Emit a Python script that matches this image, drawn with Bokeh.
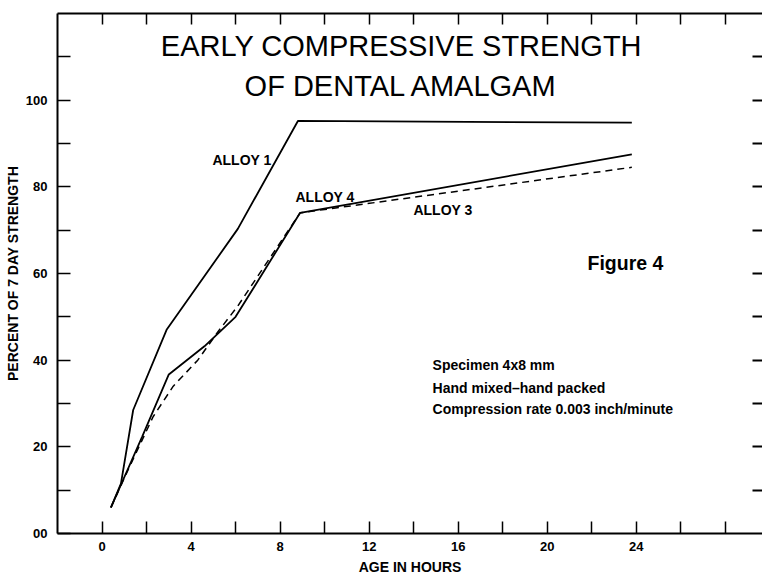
from bokeh.plotting import figure
from bokeh.models import LinearAxis, FixedTicker, Range1d, Label
from bokeh.embed import file_html
from bokeh.resources import INLINE

# ---- data (hours, percent of 7-day strength) ----
alloy1_hours = [0.4, 0.85, 1.4, 2.9, 6.1, 8.8, 23.8]
alloy1_pct = [6.0, 11.5, 28.5, 47.0, 70.3, 95.2, 94.8]

alloy4_hours = [0.4, 1.8, 3.0, 4.6, 6.0, 8.9, 23.8]
alloy4_pct = [6.0, 22.3, 36.7, 43.2, 50.0, 74.0, 87.5]

alloy3_hours = [0.4, 1.2, 2.3, 3.2, 4.3, 5.2, 6.1, 8.9, 23.8]
alloy3_pct = [6.0, 15.0, 27.0, 34.0, 40.0, 46.5, 52.5, 74.0, 84.5]

x_ticks = [0, 2, 4, 6, 8, 10, 12, 14, 16, 18, 20, 22, 24, 26, 28]
x_tick_labels = {0: "0", 4: "4", 8: "8", 12: "12", 16: "16", 20: "20", 24: "24"}
y_ticks = [0, 10, 20, 30, 40, 50, 60, 70, 80, 90, 100, 110]
y_tick_labels = {0: "00", 20: "20", 40: "40", 60: "60", 80: "80", 100: "100"}
right_ticks = [10, 20, 30, 40, 50, 60, 70, 80, 90, 100, 110]

FONT = "Liberation Sans"

p = figure(width=762, height=577,
           x_range=Range1d(-2, 29.67), y_range=Range1d(0, 120),
           output_backend="svg", toolbar_location=None,
           min_border_left=57, min_border_right=0,
           min_border_top=13, min_border_bottom=0)
p.outline_line_color = None
p.grid.visible = False
p.background_fill_color = "white"
p.border_fill_color = "white"

# bottom axis
xa = p.xaxis[0]
xa.ticker = FixedTicker(ticks=x_ticks)
xa.major_label_overrides = {t: x_tick_labels.get(t, "") for t in x_ticks}
xa.axis_line_width = 2
xa.axis_line_color = "black"
xa.major_tick_in = 12
xa.major_tick_out = 0
xa.major_tick_line_width = 1.5
xa.minor_tick_in = 0
xa.minor_tick_out = 0
xa.major_label_standoff = 8
xa.major_label_text_font = FONT
xa.major_label_text_font_style = "bold"
xa.major_label_text_font_size = "13px"
xa.major_label_text_color = "black"
xa.axis_label = "AGE IN HOURS"
xa.axis_label_standoff = 5
xa.axis_label_text_font = FONT
xa.axis_label_text_font_style = "bold"
xa.axis_label_text_font_size = "14px"
xa.axis_label_text_color = "black"

# left axis
ya = p.yaxis[0]
ya.ticker = FixedTicker(ticks=y_ticks)
ya.major_label_overrides = {t: y_tick_labels.get(t, "") for t in y_ticks}
ya.axis_line_width = 2
ya.axis_line_color = "black"
ya.major_tick_in = 13
ya.major_tick_out = 0
ya.major_tick_line_width = 1.5
ya.minor_tick_in = 0
ya.minor_tick_out = 0
ya.major_label_standoff = 10
ya.major_label_text_font = FONT
ya.major_label_text_font_style = "bold"
ya.major_label_text_font_size = "13px"
ya.major_label_text_color = "black"
ya.axis_label = "PERCENT OF 7 DAY STRENGTH"
ya.axis_label_standoff = 2
ya.axis_label_text_font = FONT
ya.axis_label_text_font_style = "bold"
ya.axis_label_text_font_size = "14px"
ya.axis_label_text_color = "black"

# top axis: frame line with inward ticks
top = LinearAxis(ticker=FixedTicker(ticks=x_ticks),
                 major_label_overrides={t: "" for t in x_ticks},
                 axis_line_width=2, axis_line_color="black",
                 major_tick_in=11, major_tick_out=0, major_tick_line_width=1.5,
                 minor_tick_in=0, minor_tick_out=0, major_label_standoff=0,
                 major_label_text_font_size="1px")
p.add_layout(top, "above")

# right side: only inward dashes
right = LinearAxis(ticker=FixedTicker(ticks=right_ticks),
                   major_label_overrides={t: "" for t in right_ticks},
                   axis_line_color=None,
                   major_tick_in=10, major_tick_out=0, major_tick_line_width=2,
                   minor_tick_in=0, minor_tick_out=0, major_label_standoff=0,
                   major_label_text_font_size="1px")
p.add_layout(right, "right")

# curves
p.line(alloy1_hours, alloy1_pct, line_color="black", line_width=1.8)
p.line(alloy4_hours, alloy4_pct, line_color="black", line_width=1.8)
p.line(alloy3_hours, alloy3_pct, line_color="black", line_width=1.5, line_dash="7 5")

# title
p.add_layout(Label(x=13.45, y=112.6, text="EARLY COMPRESSIVE STRENGTH",
                   text_font=FONT, text_font_size="29px", text_color="black",
                   text_align="center", text_baseline="middle"))
p.add_layout(Label(x=13.45, y=103.35, text="OF DENTAL AMALGAM",
                   text_font=FONT, text_font_size="29px", text_color="black",
                   text_align="center", text_baseline="middle"))

# curve labels
for xx, yy, tt in [(4.96, 86.2, "ALLOY 1"), (8.69, 77.7, "ALLOY 4"), (13.99, 74.7, "ALLOY 3")]:
    p.add_layout(Label(x=xx, y=yy, text=tt, text_font=FONT, text_font_style="bold",
                       text_font_size="14px", text_color="black",
                       text_align="left", text_baseline="middle"))

p.add_layout(Label(x=21.81, y=62.4, text="Figure 4", text_font=FONT,
                   text_font_style="bold", text_font_size="19.5px", text_color="black",
                   text_align="left", text_baseline="middle"))

for yy, tt in [(38.8, "Specimen 4x8 mm"), (33.5, "Hand mixed\u2013hand packed"),
               (28.7, "Compression rate 0.003 inch/minute")]:
    p.add_layout(Label(x=14.85, y=yy, text=tt, text_font=FONT, text_font_style="bold",
                       text_font_size="14px", text_color="black",
                       text_align="left", text_baseline="middle"))

open("out.html", "w").write(file_html(p, INLINE))
